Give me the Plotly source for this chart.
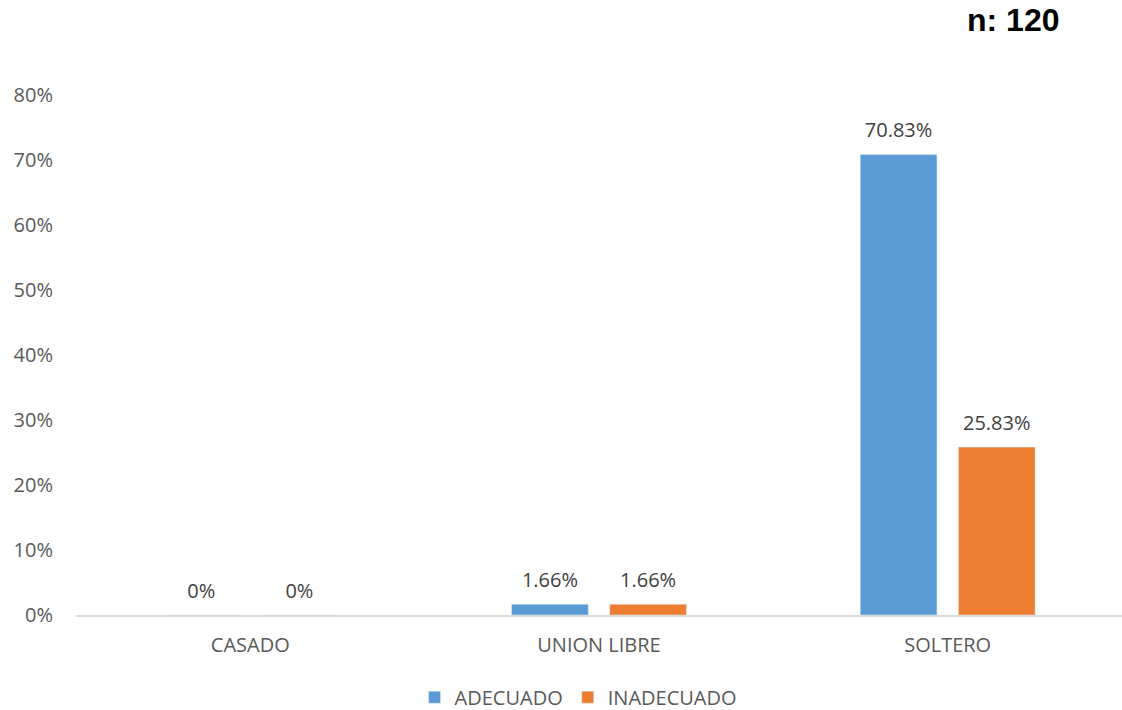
import plotly.graph_objects as go

categories = ["CASADO", "UNION LIBRE", "SOLTERO"]
adecuado = [0, 1.66, 70.83]
inadecuado = [0, 1.66, 25.83]
y_ticks = [0, 10, 20, 30, 40, 50, 60, 70, 80]

BLUE = "#5b9bd5"
ORANGE = "#ed7d31"
GREY = "#595959"
FONT = "Open Sans"


def pct(v):
    return f"{v:g}%"


fig = go.Figure()
for name, vals, color in [("ADECUADO", adecuado, BLUE), ("INADECUADO", inadecuado, ORANGE)]:
    fig.add_trace(go.Bar(
        name=name, x=categories, y=vals, marker_color=color,
        offsetgroup=name, cliponaxis=False,
    ))
    # value labels placed above each bar (invisible markers set the gap)
    fig.add_trace(go.Scatter(
        x=categories, y=vals, mode="markers+text", text=[pct(v) for v in vals],
        textposition="top center", offsetgroup=name, showlegend=False,
        marker=dict(size=18, opacity=0),
        textfont=dict(family=FONT, size=20, color="#404040"),
        cliponaxis=False, hoverinfo="skip",
    ))

fig.update_layout(
    width=1122, height=710,
    margin=dict(l=76, r=0, t=95, b=95, autoexpand=False),
    paper_bgcolor="white", plot_bgcolor="white",
    barmode="group", bargap=0.437, bargroupgap=0.218,
    scattermode="group", scattergap=0.437,
    font=dict(family=FONT, size=20, color=GREY),
    showlegend=True,
    legend=dict(orientation="h", x=0.48, xanchor="center", yref="container", y=0.018,
                yanchor="middle", font=dict(family=FONT, size=20, color=GREY),
                itemwidth=30, traceorder="normal"),
    annotations=[dict(text="<b>n: 120</b>", xref="paper", yref="paper",
                      x=0.942, y=1.145, xanchor="right", yanchor="middle", showarrow=False,
                      font=dict(family="Liberation Sans", size=32, color="black"))],
)
fig.update_yaxes(range=[0, 80], tickvals=y_ticks, ticktext=[f"{t}%" for t in y_ticks],
                 showgrid=False, zeroline=False, showline=False, ticklabelstandoff=22,
                 automargin=False, tickfont=dict(family=FONT, size=20, color=GREY))
fig.update_xaxes(showline=True, linecolor="#d9d9d9", linewidth=2, ticks="",
                 ticklabelstandoff=11, automargin=False,
                 tickfont=dict(family=FONT, size=20, color=GREY))

fig.write_html("out.html")
